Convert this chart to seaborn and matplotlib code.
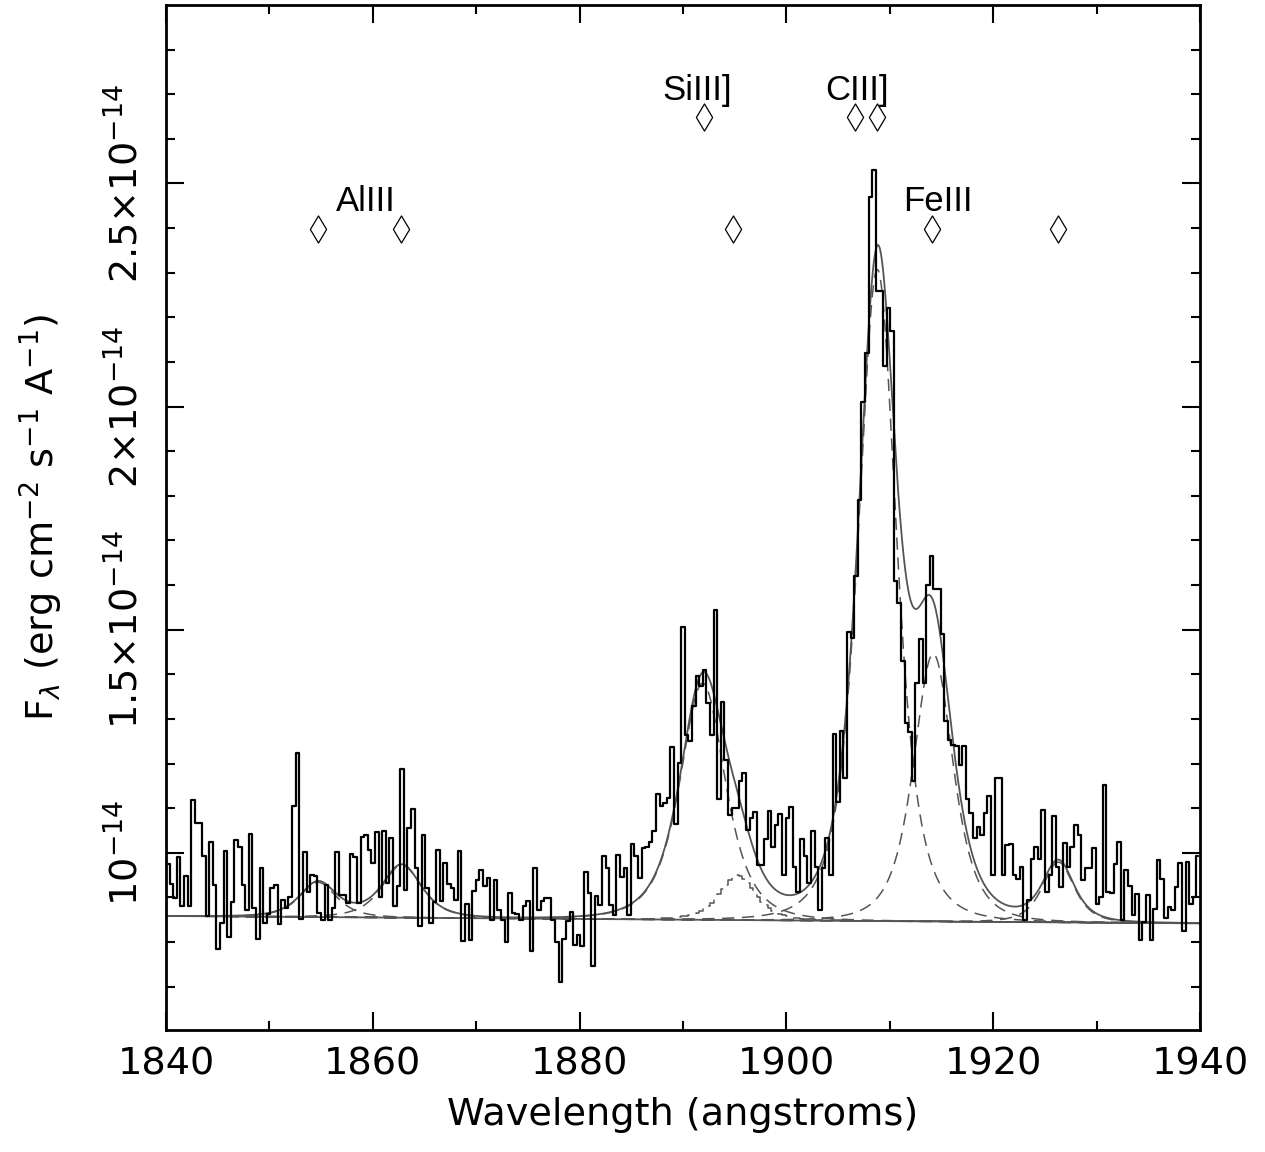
import numpy as np
import matplotlib
matplotlib.use("Agg")
import matplotlib.pyplot as plt
import seaborn as sns

# ---------------- data (flux in units of 1e-14 erg/cm2/s/A) ----------------
flux_1840_1857 = [0.975, 0.930, 0.898, 0.990, 0.880, 0.947, 0.881, 1.119, 1.067, 1.068,
                  0.993, 0.859, 1.025, 0.927, 0.785, 0.842, 1.005, 0.812, 0.889, 1.029,
                  1.012, 0.927, 0.872, 1.043, 0.876, 0.807, 0.967, 0.842, 0.863, 0.921,
                  0.927, 0.840, 0.895, 0.876, 0.902, 1.104, 1.224, 0.851, 1.001, 0.912,
                  0.951, 0.947, 0.865, 0.850, 0.927, 0.850, 0.877, 1.003]
flux_1857_1874 = [0.906, 0.906, 0.887, 0.997, 0.990, 0.887, 1.035, 1.040, 1.007, 0.977,
                  1.046, 0.902, 1.050, 0.932, 1.033, 0.880, 0.925, 1.188, 0.917, 1.056,
                  1.098, 0.966, 0.836, 1.040, 0.922, 0.842, 0.889, 1.007, 0.891, 0.977,
                  0.930, 0.921, 0.895, 1.005, 0.802, 0.886, 0.805, 0.915, 0.939, 0.962,
                  0.925, 0.943, 0.850, 0.939, 0.872, 0.850, 0.801, 0.909, 0.865]
flux_1874_1890 = [0.864, 0.850, 0.880, 0.891, 0.781, 0.967, 0.872, 0.891, 0.898, 0.898,
                  0.850, 0.801, 0.710, 0.808, 0.848, 0.868, 0.793, 0.816, 0.792, 0.958,
                  0.911, 0.747, 0.904, 0.883, 0.993, 0.966, 0.883, 0.861, 0.996, 0.945,
                  0.966, 0.861, 1.020, 0.992, 0.943, 1.011, 1.014, 1.024, 1.048, 1.132,
                  1.104, 1.112, 1.123, 1.237, 1.065, 1.201, 1.507, 1.263, 1.250]
flux_1890_1906 = [1.329, 1.397, 1.374, 1.409, 1.336, 1.263, 1.544, 1.121, 1.338, 1.209,
                  1.085, 1.100, 1.100, 1.160, 1.179, 1.052, 1.078, 1.091, 0.973, 0.973,
                  1.031, 1.093, 1.014, 1.063, 1.088, 0.951, 1.078, 1.103, 0.969, 0.913,
                  1.031, 0.992, 0.932, 1.048, 0.969, 0.872, 0.966, 1.033, 0.951, 1.267,
                  1.114, 1.272, 1.168, 1.495, 1.482]
flux_1906_1914 = [1.62, 1.79, 2.01, 2.12, 2.47, 2.53, 2.26, 2.26, 2.09, 2.22,
                  2.17, 1.61, 1.56, 1.43, 1.29, 1.27, 1.16, 1.38, 1.48, 1.38, 1.60]
flux_1914_1922 = [1.666, 1.591, 1.591, 1.491, 1.296, 1.252, 1.242, 1.240, 1.196,
                  1.240, 1.121, 1.090, 1.033, 1.058, 1.039, 1.090, 1.127, 0.951, 1.167,
                  1.167, 0.951, 1.017, 1.020, 0.951]
flux_1922_1940 = [0.942, 0.969, 0.850, 0.894, 0.986, 1.012, 0.986, 1.096, 0.912, 0.950,
                  1.083, 0.969, 0.924, 1.022, 0.969, 1.012, 1.062, 1.040, 0.939, 0.967,
                  0.967, 1.010, 0.886, 0.901, 1.152, 0.912, 0.909, 0.976, 1.025, 0.850,
                  0.961, 0.925, 0.860, 0.907, 0.804, 0.845, 0.905, 0.804, 0.875, 0.984,
                  0.942, 0.853, 0.879, 0.871, 0.924, 0.978, 0.825, 0.980, 0.885, 0.901,
                  0.992]

wl_start, wl_end = 1840.0, 1940.0

# fitted model: continuum + emission components
cont_ends = [0.8585, 0.842]
line_centers = [1854.7, 1862.8, 1891.9, 1895.3, 1908.8, 1914.2, 1926.3]
line_amps = [0.078, 0.118, 0.53, 0.10, 1.46, 0.60, 0.135]
line_widths = [3.25, 3.5, 4.0, 3.2, 3.4, 3.5, 2.8]

# line identifications
id_wl_low = [1854.70, 1862.73, 1894.84, 1914.08, 1926.27]
id_wl_high = [1892.03, 1906.63, 1908.76]
id_labels = ["AlIII", "SiIII]", "CIII]", "FeIII"]
id_label_wl = [1859.3, 1891.35, 1906.83, 1914.66]
id_label_row = ["low", "high", "high", "low"]

xticks_major = [1840, 1860, 1880, 1900, 1920, 1940]
yticks_major = [1.0, 1.5, 2.0, 2.5]
ytick_labels = ["10$^{-14}$", "1.5×10$^{-14}$", "2×10$^{-14}$", "2.5×10$^{-14}$"]

# ---------------- build arrays ----------------
flux = np.array(flux_1840_1857 + flux_1857_1874 + flux_1874_1890 + flux_1890_1906
                + flux_1906_1914 + flux_1914_1922 + flux_1922_1940)
n = len(flux)
dw = (wl_end - wl_start) / n
wl = wl_start + (np.arange(n) + 0.5) * dw

grid = np.linspace(wl_start, wl_end, 2001)


def continuum(x):
    return np.interp(x, [wl_start, wl_end], cont_ends)


def profile(x, c, a, g):
    return a / (1.0 + ((x - c) / g) ** 2) ** 2


params = list(zip(line_centers, line_amps, line_widths))
total = continuum(grid) + sum(profile(grid, *p) for p in params)

# ---------------- plot ----------------
sns.set_theme(style="ticks")
plt.rcParams["font.family"] = ["DejaVu Sans"]
plt.rcParams["mathtext.fontset"] = "dejavusans"
for key in ["text.color", "axes.labelcolor", "xtick.color", "ytick.color"]:
    plt.rcParams[key] = "black"

W, H = 1265, 1152
fig = plt.figure(figsize=(W / 100, H / 100), dpi=100)
ax = fig.add_axes([166 / W, 1 - 1030 / H, (1200 - 166) / W, (1030 - 5) / H])

gray = "#555555"
dash = (0, (8, 5))

# components (dashed)
for i, p in enumerate(params):
    if i == 3:
        comp = continuum(wl) + profile(wl, *p)
        sns.lineplot(x=wl, y=comp, ax=ax, color=gray, lw=1.1, linestyle=dash,
                     drawstyle="steps-mid", estimator=None, sort=False)
    else:
        comp = continuum(grid) + profile(grid, *p)
        sns.lineplot(x=grid, y=comp, ax=ax, color=gray, lw=1.1, linestyle=dash,
                     estimator=None, sort=False)

# total model and continuum
sns.lineplot(x=grid, y=total, ax=ax, color=gray, lw=1.3, estimator=None, sort=False)
sns.lineplot(x=grid, y=continuum(grid), ax=ax, color=gray, lw=1.3, estimator=None, sort=False)

# data histogram
sns.lineplot(x=wl, y=flux, ax=ax, color="black", lw=1.6, drawstyle="steps-mid",
             estimator=None, sort=False)

# line identifications
y_low, y_high = 2.399, 2.650
sns.scatterplot(x=id_wl_low, y=[y_low] * len(id_wl_low), ax=ax, marker="d", s=190,
                facecolor="white", edgecolor="black", linewidth=0.9, zorder=5)
sns.scatterplot(x=id_wl_high, y=[y_high] * len(id_wl_high), ax=ax, marker="d", s=190,
                facecolor="white", edgecolor="black", linewidth=0.9, zorder=5)
for lab, xw, row in zip(id_labels, id_label_wl, id_label_row):
    yy = 2.439 if row == "low" else 2.686
    ax.text(xw, yy, lab, ha="center", va="baseline", fontsize=25,
            family=["Liberation Sans", "DejaVu Sans"], color="black")

ax.set_xlim(wl_start, wl_end)
ax.set_ylim(0.603, 2.9)

ax.set_xticks(xticks_major)
ax.set_xticks(np.arange(1850, 1940, 20), minor=True)
ax.set_xticklabels([str(t) for t in xticks_major])
ax.set_yticks(yticks_major)
ax.set_yticks([v / 10 for v in range(7, 29) if v % 5 != 0], minor=True)
ax.set_yticklabels(ytick_labels, rotation=90, va="center")

ax.tick_params(which="both", direction="in", top=True, right=True, color="black")
ax.tick_params(which="major", length=13, width=1.5, labelsize=27.5, pad=12)
ax.tick_params(which="minor", length=6.5, width=1.5)
ax.tick_params(axis="y", which="major", pad=15)
for sp in ax.spines.values():
    sp.set_linewidth(2.0)
    sp.set_color("black")

ax.set_xlabel("Wavelength (angstroms)", fontsize=27.5, labelpad=10)
ax.set_ylabel(r"F$_{\lambda}$ (erg cm$^{-2}$ s$^{-1}$ A$^{-1}$)", fontsize=27.5)
ax.yaxis.set_label_coords(-0.098, 0.5)

fig.savefig("out.png", dpi=100, facecolor="white")
